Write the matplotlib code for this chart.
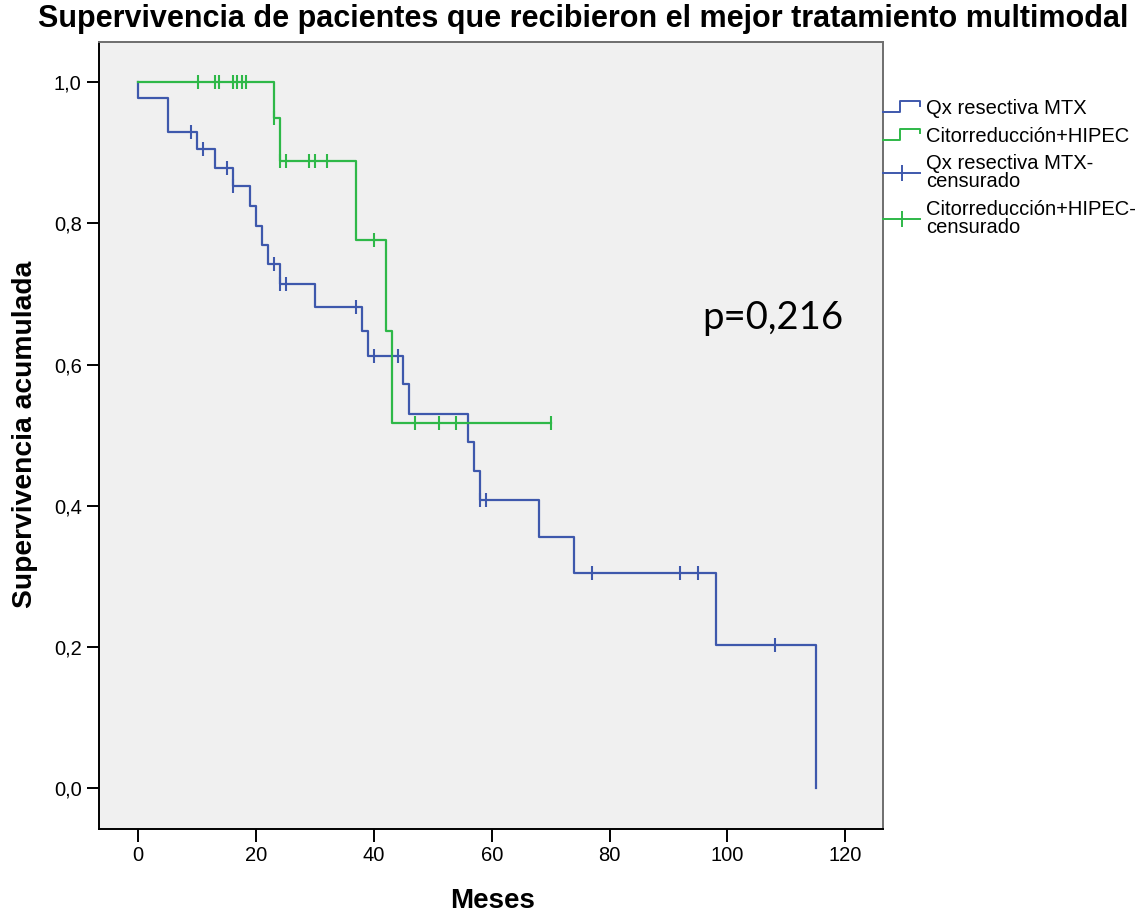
import numpy as np
import matplotlib
matplotlib.use("Agg")
import matplotlib.pyplot as plt
from matplotlib.lines import Line2D
from matplotlib.legend_handler import HandlerBase
from matplotlib.ticker import FuncFormatter, MultipleLocator

plt.rcParams['font.family'] = 'Liberation Sans'

# Kaplan-Meier estimates (months, cumulative survival)
mtx_times = [0, 5, 10, 13, 16, 19, 20, 21, 22, 24, 30, 38, 39, 45, 46, 56, 57, 58, 68, 74, 98, 115]
mtx_surv = [0.977, 0.930, 0.905, 0.879, 0.853, 0.825, 0.797, 0.770, 0.742, 0.714, 0.682,
            0.647, 0.612, 0.572, 0.530, 0.490, 0.449, 0.408, 0.356, 0.305, 0.203, 0.0]
mtx_censored = [9, 11, 15, 16, 23, 24, 25, 37, 40, 44, 58, 59, 77, 92, 95, 108]

hipec_times = [23, 24, 37, 42, 43]
hipec_surv = [0.949, 0.889, 0.777, 0.647, 0.517]
hipec_censored = [10.1, 13.0, 13.7, 16.0, 16.7, 17.6, 18.2, 23, 24, 25, 29, 30, 32,
                  40, 47, 51, 54, 70]
hipec_last = 70

labels = ["Qx resectiva MTX", "Citorreducción+HIPEC",
          "Qx resectiva MTX-\ncensurado", "Citorreducción+HIPEC-\ncensurado"]
p_text = "p=0,216"

blue = "#3E58AC"
green = "#2EB848"


def surv_at(times, surv, t):
    idx = np.searchsorted(times, t, side="right") - 1
    vals = np.r_[1.0, surv]
    return vals[idx + 1]


class StepHandler(HandlerBase):
    def create_artists(self, legend, orig_handle, xdescent, ydescent,
                       width, height, fontsize, trans):
        x0, y0 = -xdescent, -ydescent
        xs = [x0, x0 + 0.45 * width, x0 + 0.45 * width, x0 + width, x0 + width]
        ys = [y0 + 0.15 * height, y0 + 0.15 * height, y0 + 0.95 * height,
              y0 + 0.95 * height, y0 + 0.6 * height]
        line = Line2D(xs, ys, color=orig_handle.get_color(), lw=1.4)
        line.set_transform(trans)
        return [line]


fig = plt.figure(figsize=(11.42, 9.15), dpi=100)
ax = fig.add_axes([0.0867, 0.094, 0.6865, 0.8601])
ax.set_facecolor("#F0F0F0")

# survival curves
mx = np.r_[0, mtx_times]
my = np.r_[1.0, mtx_surv]
l1, = ax.step(mx, my, where="post", color=blue, lw=1.6)

hx = np.r_[0, hipec_times, hipec_last]
hy = np.r_[1.0, hipec_surv, hipec_surv[-1]]
l2, = ax.step(hx, hy, where="post", color=green, lw=1.6)

# censored marks
mc_y = [surv_at(mtx_times, mtx_surv, t) for t in mtx_censored]
hc_y = [surv_at(hipec_times, hipec_surv, t) for t in hipec_censored]
ax.plot(mtx_censored, mc_y, ls="none", marker="|", ms=10, mew=1.5, color=blue)
ax.plot(hipec_censored, hc_y, ls="none", marker="|", ms=10, mew=1.5, color=green)

ax.set_xlim(-6.67, 126.4)
ax.set_ylim(-0.058, 1.057)
ax.xaxis.set_major_locator(MultipleLocator(20))
ax.yaxis.set_major_locator(MultipleLocator(0.2))
ax.yaxis.set_major_formatter(FuncFormatter(lambda v, p: f"{v:.1f}".replace(".", ",")))
ax.tick_params(direction="out", length=9, width=1.4, labelsize=14.5, pad=3.5, colors="black")

for side in ["left", "bottom"]:
    ax.spines[side].set_color("black")
    ax.spines[side].set_linewidth(1.4)
for side in ["top", "right"]:
    ax.spines[side].set_color("#6E6E6E")
    ax.spines[side].set_linewidth(1.4)

fig.text(0.511, 0.979, "Supervivencia de pacientes que recibieron el mejor tratamiento multimodal",
         ha="center", va="center", fontsize=22, fontweight="bold")
fig.text(0.022, 0.525, "Supervivencia acumulada", rotation=90, ha="center", va="center",
         fontsize=20.3, fontweight="bold")
fig.text(0.431, 0.015, "Meses", ha="center", va="center", fontsize=20, fontweight="bold")

ax.text(0.770, 0.649, p_text, transform=ax.transAxes, ha="left", va="center",
        fontsize=27.5, family="Lato")

c1 = Line2D([], [], color=blue, lw=1.4, marker="|", ms=12, mew=1.4)
c2 = Line2D([], [], color=green, lw=1.4, marker="|", ms=12, mew=1.4)
leg = ax.legend([l1, l2, c1, c2], labels, loc="upper left", bbox_to_anchor=(1.0, 0.927),
                frameon=False, fontsize=14.5, handlelength=1.85, handletextpad=0.3,
                labelspacing=0.42, borderaxespad=0, borderpad=0, numpoints=1,
                handler_map={l1: StepHandler(), l2: StepHandler()})
for t in leg.get_texts():
    t.set_linespacing(0.93)

fig.savefig("out.png", dpi=100)
